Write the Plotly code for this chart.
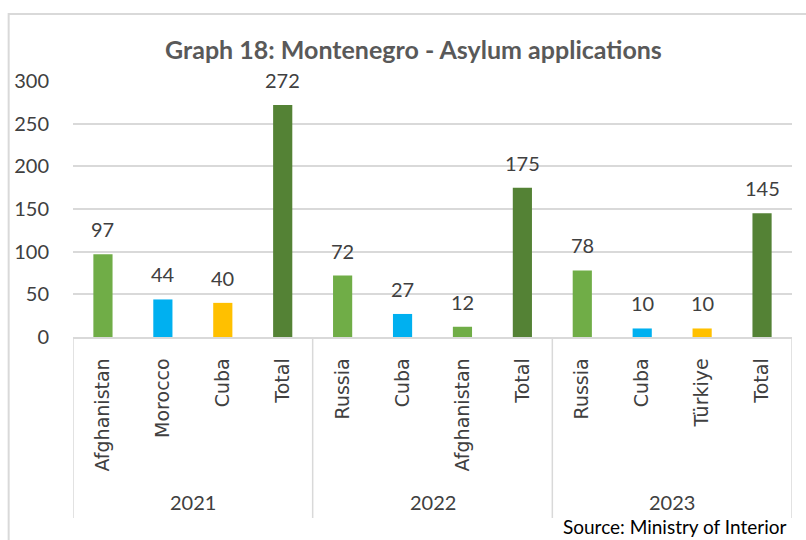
import plotly.graph_objects as go

# Asylum applications in Montenegro by year and country of origin
years = ["2021", "2022", "2023"]
countries = ["Afghanistan", "Morocco", "Cuba", "Total",
             "Russia", "Cuba", "Afghanistan", "Total",
             "Russia", "Cuba", "Türkiye", "Total"]
applications = [97, 44, 40, 272,
                72, 27, 12, 175,
                78, 10, 10, 145]
bar_colors = ["#70AD47", "#00B0F0", "#FFC000", "#548235",
              "#70AD47", "#00B0F0", "#70AD47", "#548235",
              "#70AD47", "#00B0F0", "#FFC000", "#548235"]
y_ticks = [0, 50, 100, 150, 200, 250, 300]
per_year = 4

positions = list(range(len(countries)))

fig = go.Figure()
fig.add_trace(go.Bar(
    x=positions,
    y=applications,
    marker=dict(color=bar_colors, line=dict(width=0)),
    width=0.32,
    hoverinfo="skip",
))

shapes = []
# Outer chart frame
shapes.append(dict(type="rect", xref="paper", yref="paper",
                   x0=-0.0895, x1=1.2, y0=-1.0, y1=1.262,
                   line=dict(color="#D9D9D9", width=2), layer="below"))
# Group dividers below the category axis
for k in range(len(years) + 1):
    xb = k * per_year - 0.5
    shapes.append(dict(type="line", xref="x", yref="paper",
                       x0=xb, x1=xb, y0=0, y1=-0.707,
                       line=dict(color="#D9D9D9", width=1.5)))

annotations = []
# Value labels above each bar
for xp, v in zip(positions, applications):
    annotations.append(dict(
        x=xp, y=v, xref="x", yref="y", text=str(v), showarrow=False,
        yshift=25, xanchor="center", yanchor="middle",
        font=dict(family="Lato", size=20, color="#404040")))
for k, yr in enumerate(years):
    annotations.append(dict(
        x=k * per_year + (per_year - 1) / 2, y=-0.643,
        xref="x", yref="paper", text=yr, showarrow=False,
        font=dict(family="Lato", size=20, color="#404040"),
        xanchor="center", yanchor="middle"))
annotations.append(dict(
    x=0.995, y=-0.742, xref="paper", yref="paper",
    text="Source: Ministry of Interior", showarrow=False,
    font=dict(family="Lato", size=19, color="#000000"),
    xanchor="right", yanchor="middle"))

fig.update_layout(
    width=806, height=540,
    margin=dict(l=73, r=14, t=81, b=203),
    paper_bgcolor="white",
    plot_bgcolor="white",
    showlegend=False,
    title=dict(text="<b>Graph 18: Montenegro - Asylum applications</b>",
               x=0.513, xanchor="center", y=0.907, yanchor="middle",
               font=dict(family="Lato", size=25, color="#595959")),
    shapes=shapes,
    annotations=annotations,
    xaxis=dict(
        range=[-0.5, len(countries) - 0.5],
        tickmode="array", tickvals=positions, ticktext=countries,
        tickangle=-90, ticks="", ticklen=0,
        tickfont=dict(family="DejaVu Sans", size=19, color="#404040"),
        ticklabelstandoff=12,
        showgrid=False, zeroline=False,
        showline=True, linecolor="#D9D9D9", linewidth=1.5,
        fixedrange=True,
    ),
    yaxis=dict(
        range=[0, 300],
        tickmode="array", tickvals=y_ticks,
        tickfont=dict(family="Lato", size=20, color="#404040"),
        showgrid=True, gridcolor="#D9D9D9", gridwidth=1.5,
        zeroline=False, showline=False, ticks="",
        ticklabelstandoff=23,
        fixedrange=True,
    ),
)

fig.write_html("out.html")
